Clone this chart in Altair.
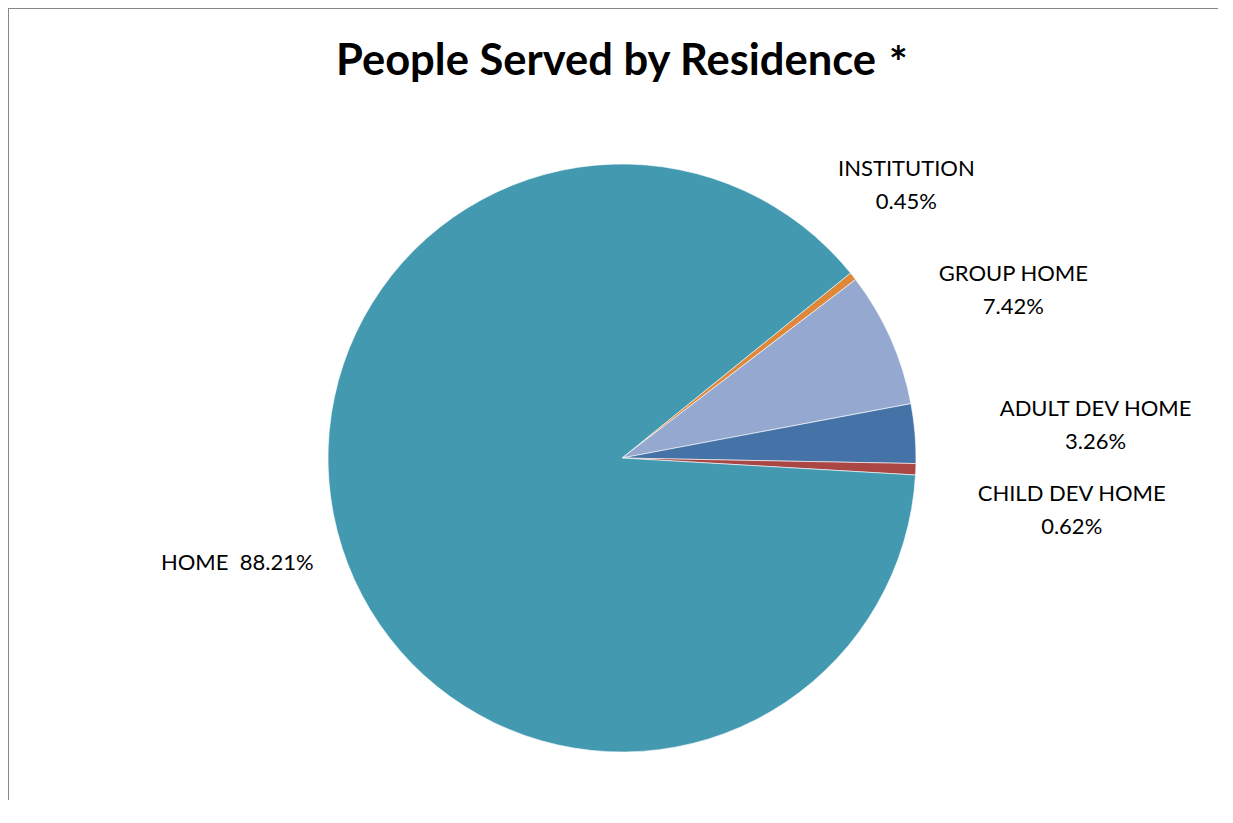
import altair as alt
import pandas as pd
import math

categories = ["INSTITUTION", "GROUP HOME", "ADULT DEV HOME", "CHILD DEV HOME", "HOME"]
values = [0.45, 7.42, 3.26, 0.62, 88.21]
labels = ["INSTITUTION\n0.45%", "GROUP HOME\n7.42%", "ADULT DEV HOME\n3.26%",
          "CHILD DEV HOME\n0.62%", "HOME\u00a0 88.21%"]
colors = ["#E0883A", "#95A9D0", "#4572A7", "#AA4643", "#4399B0"]

df = pd.DataFrame({
    "category": categories,
    "value": values,
    "label": labels,
    "idx": list(range(len(categories))),
})

W, H = 1210, 792
CX, CY = 614, 450
R = 294
start = math.radians(51)
theta_scale = alt.Scale(range=[start, start + 2 * math.pi])

color = alt.Color("category:N", scale=alt.Scale(domain=categories, range=colors), legend=None)

base = alt.Chart(df)

pie = base.mark_arc(stroke="#ffffff", strokeWidth=0.6).encode(
    theta=alt.Theta("value:Q", stack=True, scale=theta_scale),
    color=color,
    order=alt.Order("idx:Q"),
    x=alt.value(CX), y=alt.value(CY),
    radius=alt.value(R),
)

offsets = {
    "INSTITUTION": (-30, -42),
    "GROUP HOME": (26, -21),
    "ADULT DEV HOME": (75, -16),
    "CHILD DEV HOME": (50, 21),
    "HOME": (-4, -18),
}
lab_base = base.transform_window(
    cum="sum(value)", sort=[alt.SortField("idx")]
).transform_calculate(mid="datum.cum - datum.value / 2")

text_layers = []
for cat in categories:
    dx, dy = offsets[cat]
    text_layers.append(
        lab_base.transform_filter(alt.datum.category == cat)
        .mark_text(font="Lato", fontSize=22, color="#000000", lineBreak="\n",
                   lineHeight=33, align="center", baseline="middle", dx=dx, dy=dy)
        .encode(theta=alt.Theta("mid:Q", scale=theta_scale), text="label:N",
                x=alt.value(CX), y=alt.value(CY), radius=alt.value(400))
    )

title_df = pd.DataFrame({"t": ["People Served by Residence"]})
title = alt.Chart(title_df).mark_text(font="Lato", fontSize=43.5, fontWeight="bold",
                                      align="left", baseline="alphabetic", color="#000000").encode(
    text="t:N", x=alt.value(328), y=alt.value(67))
star = alt.Chart(pd.DataFrame({"t": ["*"]})).mark_text(font="Lato", fontSize=44, fontWeight="bold",
                                                       align="left", baseline="alphabetic", color="#000000").encode(
    text="t:N", x=alt.value(881), y=alt.value(70))

border_left = alt.Chart(pd.DataFrame({"a": [0]})).mark_rule(color="#888888", strokeWidth=2).encode(
    x=alt.value(0), y=alt.value(0), y2=alt.value(H))
border_top = alt.Chart(pd.DataFrame({"a": [0]})).mark_rule(color="#888888", strokeWidth=2).encode(
    x=alt.value(0), x2=alt.value(W), y=alt.value(0))

chart = alt.layer(pie, *text_layers, title, star, border_left, border_top).properties(
    width=W, height=H, autosize=alt.AutoSizeParams(type="none"), padding=0,
).configure_view(strokeWidth=0, stroke="transparent")

chart.save("out.html", embed_options={"renderer": "svg", "actions": False})
